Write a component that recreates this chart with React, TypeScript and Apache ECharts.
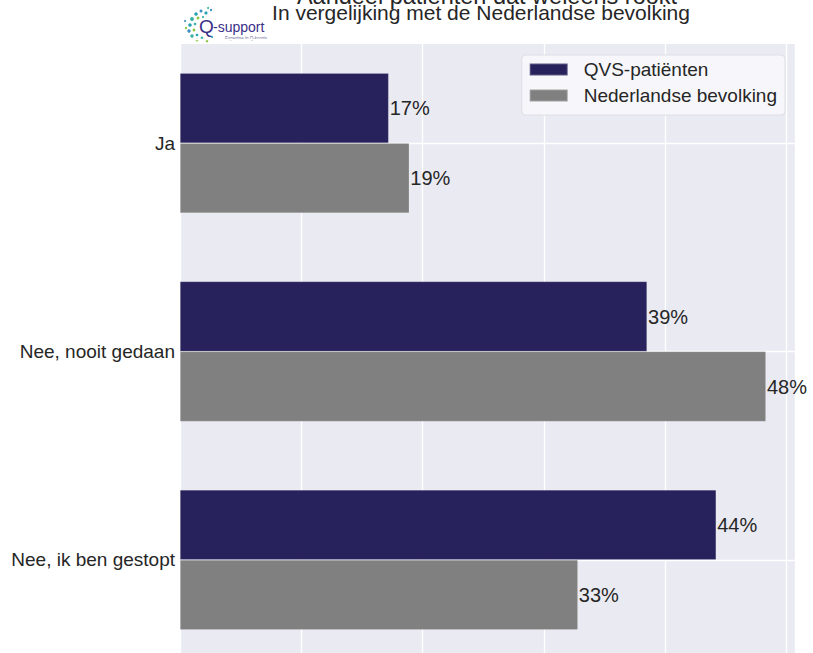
import React, { useEffect, useRef } from "react";
import * as echarts from "echarts";

const categories = ["Ja", "Nee, nooit gedaan", "Nee, ik ben gestopt"];
const seriesNames = ["QVS-patiënten", "Nederlandse bevolking"];
const qvsValues = [17.2, 38.5, 44.2];
const nlValues = [18.9, 48.3, 32.8];
const titleText = "Aandeel patiënten dat weleens rookt";
const subtitleText = "In vergelijking met de Nederlandse bevolking";

const NAVY = "#28225c";
const GRAY = "#808080";
const TEXT = "#262626";
const FONT = "'Liberation Sans', Arial, sans-serif";

const logoDots: Array<[number, number, number, string]> = [
  [196, 14, 1.8, "#2aa3b6"], [201, 11, 1.5, "#3a8fc4"], [206, 13, 1.6, "#2aa3b6"],
  [192, 19, 1.9, "#37b3a3"], [198, 18, 1.4, "#8cc63f"], [190, 25, 1.8, "#2aa3b6"],
  [195, 24, 1.3, "#37b3a3"], [189, 31, 1.7, "#3a8fc4"], [194, 30, 1.4, "#8cc63f"],
  [192, 36, 1.7, "#37b3a3"], [197, 35, 1.3, "#2aa3b6"], [197, 40, 1.5, "#8cc63f"],
  [202, 38, 1.4, "#37b3a3"], [207, 41, 1.3, "#8cc63f"], [211, 10, 1.2, "#3a8fc4"],
  [203, 17, 1.1, "#37b3a3"], [186, 28, 1.2, "#8cc63f"], [212, 37, 1.1, "#2aa3b6"],
  [208, 8, 1.0, "#37b3a3"], [185, 21, 1.0, "#3a8fc4"],
];

export default function App() {
  const ref = useRef<HTMLDivElement>(null);
  useEffect(() => {
    if (!ref.current) return;
    const chart = echarts.init(ref.current, null, { renderer: "svg" });
    const labelFmt = (p: any) => Math.round(p.value) + "%";
    const graphicEls: any[] = [
      {
        type: "rect",
        z: -10,
        shape: { x: 180, y: 44, width: 615, height: 630 },
        style: { fill: "#eaeaf2" },
        silent: true,
      },
      {
        type: "text",
        x: 487,
        y: -4,
        style: {
          text: titleText,
          fontSize: 23.5,
          fontFamily: FONT,
          fill: TEXT,
          align: "center",
          verticalAlign: "middle",
        },
      },
      {
        type: "text",
        x: 481,
        y: 12.7,
        style: {
          text: subtitleText,
          fontSize: 21,
          fontFamily: FONT,
          fill: TEXT,
          align: "center",
          verticalAlign: "middle",
        },
      },
      ...logoDots.map(([cx, cy, r, c]) => ({
        type: "circle",
        shape: { cx, cy, r },
        style: { fill: c },
      })),
      {
        type: "text",
        x: 199,
        y: 26,
        style: {
          text: "Q",
          fontSize: 19,
          fontFamily: FONT,
          fill: "#3a3087",
          align: "left",
          verticalAlign: "middle",
        },
      },
      {
        type: "text",
        x: 213,
        y: 27,
        style: {
          text: "-support",
          fontSize: 14,
          fontFamily: FONT,
          fill: "#3a3087",
          align: "left",
          verticalAlign: "middle",
        },
      },
      {
        type: "text",
        x: 225,
        y: 38,
        style: {
          text: "Expertise in Q-koorts",
          fontSize: 4.5,
          fontFamily: FONT,
          fill: "#5a5a8a",
          align: "left",
          verticalAlign: "middle",
        },
      },
    ];

    chart.setOption({
      animation: false,
      textStyle: { fontFamily: FONT },
      graphic: { elements: graphicEls },
      grid: { left: 180, top: 39, width: 615, height: 625, containLabel: false },
      legend: {
        data: seriesNames,
        orient: "vertical",
        right: 28,
        top: 55,
        itemWidth: 38,
        itemHeight: 12,
        itemGap: 7,
        icon: "rect",
        padding: [5, 8, 10, 7],
        backgroundColor: "rgba(248,248,251,0.95)",
        borderColor: "#dedee6",
        borderWidth: 1,
        borderRadius: 4,
        textStyle: {
          fontSize: 19,
          color: TEXT,
          fontFamily: FONT,
          padding: [0, 0, 0, 11],
        },
      },
      xAxis: {
        type: "value",
        min: 0,
        max: 50.7,
        interval: 10,
        axisLabel: { show: false },
        axisLine: { show: false },
        axisTick: { show: false },
        splitLine: { show: true, lineStyle: { color: "#ffffff", width: 1.3 } },
      },
      yAxis: [
        {
          type: "category",
          data: categories,
          inverse: true,
          axisLine: { show: false },
          axisTick: { show: false },
          splitLine: { show: false },
          axisLabel: { fontSize: 19, color: TEXT, margin: 5, fontFamily: FONT },
        },
        {
          type: "value",
          min: -0.5,
          max: 2.5,
          splitNumber: 3,
          inverse: true,
          position: "left",
          axisLabel: { show: false },
          axisLine: { show: false },
          axisTick: { show: false },
          splitLine: { show: true, lineStyle: { color: "#ffffff", width: 1.3 } },
        },
      ],
      series: [
        {
          name: seriesNames[0],
          type: "bar",
          yAxisIndex: 0,
          data: qvsValues,
          barWidth: 70,
          barGap: "0%",
          itemStyle: { color: NAVY, borderColor: "rgba(255,255,255,0.25)", borderWidth: 0.6 },
          label: {
            show: true,
            position: "right",
            distance: 1,
            fontSize: 20,
            color: TEXT,
            fontFamily: FONT,
            formatter: labelFmt,
          },
        },
        {
          name: seriesNames[1],
          type: "bar",
          yAxisIndex: 0,
          data: nlValues,
          barWidth: 70,
          barGap: "0%",
          itemStyle: { color: GRAY, borderColor: "rgba(255,255,255,0.25)", borderWidth: 0.6 },
          label: {
            show: true,
            position: "right",
            distance: 1,
            fontSize: 20,
            color: TEXT,
            fontFamily: FONT,
            formatter: labelFmt,
          },
        },
      ],
    });
    return () => chart.dispose();
  }, []);
  return (
    <div
      style={{
        position: "fixed",
        left: 0,
        top: 0,
        width: 813,
        height: 653,
        overflow: "hidden",
        background: "#ffffff",
      }}
    >
      <div ref={ref} style={{ width: 813, height: 675 }} />
    </div>
  );
}
